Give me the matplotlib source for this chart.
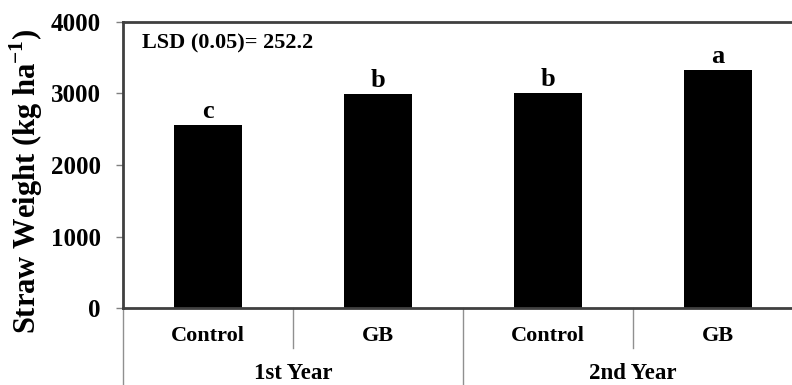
import matplotlib.pyplot as plt

plt.rcParams['font.family'] = ['Liberation Serif', 'DejaVu Serif']
plt.rcParams['font.weight'] = 'bold'
plt.rcParams['mathtext.fontset'] = 'custom'
plt.rcParams['mathtext.rm'] = 'Liberation Serif'
plt.rcParams['mathtext.bf'] = 'Liberation Serif:bold'

treatments = ["Control", "GB", "Control", "GB"]
years = ["1st Year", "2nd Year"]
straw_weight = [2555, 2995, 3005, 3330]
letters = ["c", "b", "b", "a"]
lsd_text = "LSD (0.05)= 252.2"

fig = plt.figure(figsize=(7.92, 3.85), dpi=100)
ax = fig.add_axes([123 / 792, 1 - 308 / 385, 680 / 792, 286 / 385])

x = list(range(len(treatments)))
ax.bar(x, straw_weight, width=0.405, color="black")
for xi, v, lt in zip(x, straw_weight, letters):
    ax.text(xi, v + 30, lt, ha="center", va="bottom", fontsize=19, fontweight="bold")

ax.set_xlim(-0.5, len(treatments) - 0.5)
ax.set_ylim(0, 4000)
ax.set_yticks([0, 1000, 2000, 3000, 4000])
ax.set_xticks([])
ax.tick_params(axis="y", direction="out", length=5, width=1, color="#808080",
               labelsize=18, pad=11)
for lab in ax.get_yticklabels():
    lab.set_fontweight("bold")

for side in ["top", "left", "bottom"]:
    ax.spines[side].set_color("#404040")
    ax.spines[side].set_linewidth(2.0)
ax.spines["right"].set_visible(False)

ax.set_ylabel("Straw Weight (kg ha$^{\\mathbf{-1}}$)", fontsize=22, fontweight="bold")
ax.yaxis.set_label_coords(-0.115, 0.444)

ax.text(0.028, 0.925, lsd_text, transform=ax.transAxes, ha="left", va="center",
        fontsize=16, fontweight="bold")

# two-level category axis below the plot
trans = ax.get_xaxis_transform()
for xi, t in zip(x, treatments):
    ax.text(xi, -0.098, t, transform=trans, ha="center", va="center",
            fontsize=16, fontweight="bold")
for gi, yr in enumerate(years):
    ax.text(gi * 2 + 0.5, -0.228, yr, transform=trans, ha="center", va="center",
            fontsize=16.5, fontweight="bold")
for xs in [0.5, 2.5]:
    ax.plot([xs, xs], [0, -0.14], transform=trans, color="#909090", lw=1, clip_on=False)
for xs in [-0.5, 1.5, 3.5]:
    ax.plot([xs, xs], [0, -0.3], transform=trans, color="#909090", lw=1, clip_on=False)

fig.savefig("out.png", dpi=100)
